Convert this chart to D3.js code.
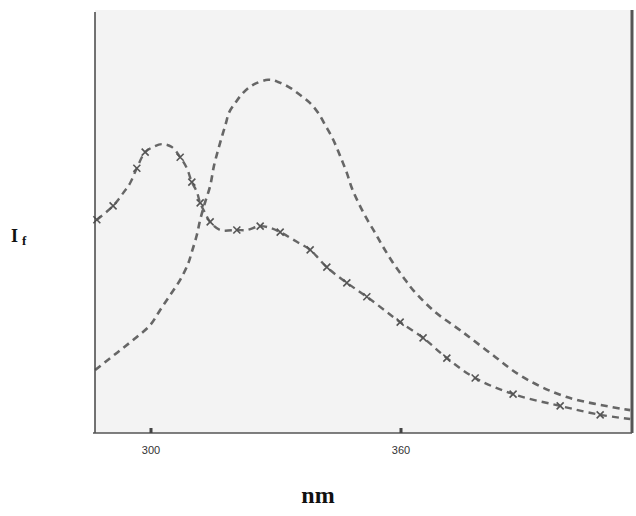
<!DOCTYPE html>
<html lang="en">
<head>
<meta charset="UTF-8">
<title>Fluorescence spectra</title>
<script src="https://d3js.org/d3.v7.min.js"></script>
<style>
    body { margin: 0; background: #ffffff; }
    svg { display: block; }
    .tick-label { font-family: "Liberation Sans", Arial, sans-serif; font-size: 11px; fill: #333; }
    .axis-title { font-family: "Liberation Serif", "Times New Roman", serif; font-weight: bold; fill: #111; }
</style>
</head>
<body>
<div id="chart"></div>
<script>
// wavelength (nm) and relative intensity
const curveA_nm = [286.6, 290.2, 293.3, 296.6, 299.8, 302.2, 304.6, 307.0, 308.9, 309.8, 311.0, 311.8, 313.0, 314.2, 315.1, 316.1, 317.0, 318.0, 318.7, 320.2, 322.1, 324.5, 328.1, 330.5, 333.4, 335.8, 338.2, 340.1, 341.8, 343.4, 344.6, 345.8, 347.0, 348.2, 349.7, 351.8, 353.8, 355.7, 358.1, 360.5, 362.9, 368.2, 374.2, 381.4, 389.3, 399.8, 415.0];
const curveA_If = [14.9, 17.7, 20.1, 22.7, 25.5, 29.1, 32.6, 36.2, 40.0, 42.8, 46.8, 50.4, 54.6, 58.4, 63.1, 66.9, 70.0, 73.3, 75.7, 78.0, 80.4, 82.3, 83.5, 83.0, 81.6, 79.9, 78.0, 75.7, 72.8, 70.0, 67.4, 64.5, 61.5, 57.9, 54.6, 50.6, 47.3, 44.0, 40.2, 36.9, 33.8, 28.6, 24.3, 18.9, 13.2, 8.5, 5.4];

const curveB_nm = [287.0, 290.9, 293.3, 295.0, 296.6, 298.6, 300.5, 302.6, 305.0, 307.0, 308.6, 309.8, 311.0, 311.8, 313.0, 314.2, 316.6, 320.6, 323.0, 326.2, 328.6, 331.0, 335.0, 338.2, 342.2, 347.0, 351.8, 356.6, 359.8, 365.3, 371.0, 377.8, 386.9, 398.2, 407.8, 415.0];
const curveB_If = [50.4, 53.7, 56.7, 59.1, 62.6, 66.4, 67.6, 68.3, 67.6, 65.2, 62.6, 59.3, 57.0, 54.4, 52.0, 49.9, 48.0, 48.0, 48.0, 48.9, 48.5, 47.5, 45.2, 43.3, 39.2, 35.5, 32.2, 28.6, 26.2, 22.5, 17.7, 13.0, 9.2, 6.4, 4.3, 3.3];
// which points of curve B carry an "x" marker
const crossIdx = [0, 1, 4, 5, 9, 11, 13, 15, 17, 19, 21, 23, 24, 25, 26, 28, 29, 30, 31, 32, 33, 34];

const xTicks = [300, 360];

const plot = { left: 95, right: 632, top: 10, bottom: 433 };

const svg = d3.select("#chart").append("svg")
    .attr("width", 636)
    .attr("height", 516);

// paper-ish background of the plot area
svg.append("rect")
    .attr("x", plot.left)
    .attr("y", plot.top)
    .attr("width", plot.right - plot.left)
    .attr("height", plot.bottom - plot.top)
    .attr("fill", "#f3f3f3");

const x = d3.scaleLinear()
    .domain([286.56, 415.44])
    .range([plot.left, plot.right]);

const y = d3.scaleLinear()
    .domain([0, 100])
    .range([plot.bottom, plot.bottom - 423]);

const line = d3.line()
    .x(d => x(d[0]))
    .y(d => y(d[1]))
    .curve(d3.curveCatmullRom);

const dataA = curveA_nm.map((v, i) => [v, curveA_If[i]]);
const dataB = curveB_nm.map((v, i) => [v, curveB_If[i]]);

svg.append("path")
    .datum(dataA)
    .attr("d", line)
    .attr("fill", "none")
    .attr("stroke", "#666")
    .attr("stroke-width", 2.6)
    .attr("stroke-dasharray", "7,5");

svg.append("path")
    .datum(dataB)
    .attr("d", line)
    .attr("fill", "none")
    .attr("stroke", "#666")
    .attr("stroke-width", 2.4)
    .attr("stroke-dasharray", "7,5");

// x markers on curve B
const s = 3.5;
svg.append("g").selectAll("path")
    .data(crossIdx.map(i => dataB[i]))
    .enter()
    .append("path")
    .attr("d", d => {
        const cx = x(d[0]), cy = y(d[1]);
        return `M${cx - s},${cy - s}L${cx + s},${cy + s}M${cx - s},${cy + s}L${cx + s},${cy - s}`;
    })
    .attr("stroke", "#555")
    .attr("stroke-width", 1.6);

// frame: left, bottom, right
svg.append("line")
    .attr("x1", plot.left).attr("x2", plot.left)
    .attr("y1", plot.top + 2).attr("y2", plot.bottom)
    .attr("stroke", "#444").attr("stroke-width", 1.5);

svg.append("line")
    .attr("x1", plot.left - 2).attr("x2", plot.right)
    .attr("y1", plot.bottom).attr("y2", plot.bottom)
    .attr("stroke", "#555").attr("stroke-width", 1.6);

svg.append("line")
    .attr("x1", plot.right).attr("x2", plot.right)
    .attr("y1", plot.top).attr("y2", plot.bottom)
    .attr("stroke", "#555").attr("stroke-width", 3);

// tick marks and labels
const ticks = svg.append("g");
ticks.selectAll("rect")
    .data(xTicks)
    .enter()
    .append("rect")
    .attr("x", d => x(d) - 1.5)
    .attr("y", plot.bottom - 5)
    .attr("width", 3)
    .attr("height", 5)
    .attr("fill", "#444");

ticks.selectAll("text")
    .data(xTicks)
    .enter()
    .append("text")
    .attr("class", "tick-label")
    .attr("x", d => x(d))
    .attr("y", 454)
    .attr("text-anchor", "middle")
    .text(d => d);

// axis titles
svg.append("text")
    .attr("class", "axis-title")
    .attr("x", 318)
    .attr("y", 503)
    .attr("text-anchor", "middle")
    .style("font-size", "24px")
    .text("nm");

const yt = svg.append("text")
    .attr("class", "axis-title")
    .attr("x", 11)
    .attr("y", 242)
    .style("font-size", "18px");
yt.append("tspan").text("I");
yt.append("tspan")
    .attr("dx", 4)
    .attr("dy", 3)
    .style("font-size", "13px")
    .text("f");
</script>
</body>
</html>
